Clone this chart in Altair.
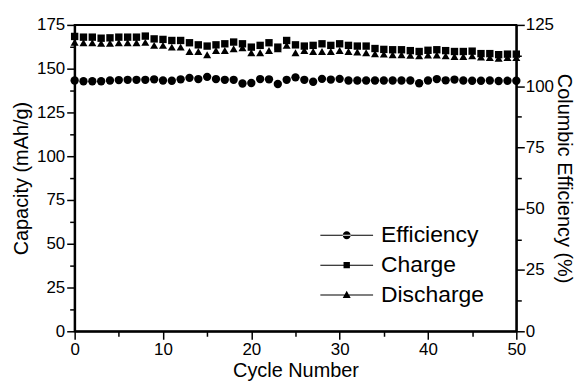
import altair as alt
import pandas as pd

cycles = list(range(51))
charge = [168.4, 168.0, 168.0, 167.4, 167.6, 168.0, 168.0, 168.0, 168.6, 167.0, 166.7, 166.1, 166.1, 164.8, 163.6, 162.9, 163.6,
          164.2, 165.2, 164.2, 162.3, 163.3, 164.8, 162.3, 166.1, 163.6, 162.9, 163.3, 164.2, 163.3, 164.2, 163.3, 162.9, 162.9,
          161.5, 161.0, 160.8, 160.8, 160.3, 159.8, 160.5, 160.8, 160.3, 159.8, 159.8, 160.0, 158.6, 158.6, 158.0, 158.3, 158.3]
discharge = [165.1, 164.8, 164.8, 164.5, 164.5, 164.8, 164.8, 164.8, 165.0, 163.3, 163.3, 162.3, 162.3, 159.8, 159.8, 158.0, 160.4,
             160.4, 161.4, 162.0, 159.1, 159.1, 160.4, 161.4, 163.3, 159.1, 160.4, 159.8, 159.8, 159.8, 160.4, 159.8, 159.5, 159.1,
             158.5, 158.3, 158.0, 158.0, 157.6, 157.3, 157.8, 157.8, 157.3, 157.0, 157.0, 157.3, 156.6, 156.3, 156.0, 156.3, 156.3]
efficiency = [102.3, 102.0, 102.0, 102.0, 102.3, 102.5, 102.6, 102.6, 102.6, 102.8, 102.3, 102.2, 102.8, 103.4, 102.9, 103.8,
              102.9, 102.6, 102.6, 101.1, 101.3, 102.9, 102.8, 100.9, 102.6, 103.6, 102.6, 101.8, 103.0, 102.7, 103.0,
              102.3, 102.3, 102.3, 102.3, 102.3, 102.3, 102.3, 102.3, 101.2, 102.3, 102.9, 102.4, 102.7, 102.3, 102.2,
              102.2, 102.3, 102.1, 102.2, 102.2]
series_names = ["Efficiency", "Charge", "Discharge"]
x_ticks = [0, 5, 10, 15, 20, 25, 30, 35, 40, 45, 50]
left_ticks = [i * 12.5 for i in range(15)]
right_ticks = [i * 12.5 for i in range(11)]

df = pd.DataFrame({"cycle": cycles, "charge": charge, "discharge": discharge, "eff": efficiency})
legend_df = pd.DataFrame({"series": series_names, "cycle": [0, 0, 0], "charge": [0, 0, 0]})

FONT = "Liberation Sans"

# legend symbols: thin horizontal line (filled bar) with a marker in the middle
legend_paths = [
    "M-2.65,-0.05H2.65V0.05H-2.65Z M-0.4,0A0.4,0.4,0,1,0,0.4,0A0.4,0.4,0,1,0,-0.4,0Z",
    "M-2.65,-0.05H2.65V0.05H-2.65Z M-0.32,-0.32H0.32V0.32H-0.32Z",
    "M-2.65,-0.05H2.65V0.05H-2.65Z M0,-0.42L0.4,0.3L-0.4,0.3Z",
]

x_axis = alt.Axis(values=x_ticks, title="Cycle Number",
                  labelExpr="datum.value % 10 === 0 ? format(datum.value, 'd') : ''",
                  tickSize={"condition": {"test": "datum.value % 10 === 0", "value": 8}, "value": 5},
                  labelFlush=False, labelOverlap=False, labelPadding=2, titlePadding=3)
x_enc = alt.X("cycle:Q", scale=alt.Scale(domain=[0, 50], nice=False, zero=False), axis=x_axis)

left_axis = alt.Axis(values=left_ticks, title="Capacity (mAh/g)",
                     labelExpr="datum.value % 25 === 0 ? format(datum.value, 'd') : ''",
                     tickSize={"condition": {"test": "datum.value % 25 === 0", "value": 8}, "value": 5},
                     labelFlush=False, labelOverlap=False, labelPadding=2, titlePadding=5)
left_scale = alt.Scale(domain=[0, 175], nice=False)

right_axis = alt.Axis(values=right_ticks, title="Columbic Efficiency (%)", orient="right",
                      labelExpr="datum.value % 25 === 0 ? format(datum.value, 'd') : ''",
                      tickSize={"condition": {"test": "datum.value % 25 === 0", "value": 8}, "value": 5},
                      labelFlush=False, labelOverlap=False, labelPadding=1, titlePadding=0)

charge_layer = alt.Chart(df).mark_point(shape="square", filled=True, size=55, color="black", opacity=1).encode(
    x=x_enc, y=alt.Y("charge:Q", scale=left_scale, axis=left_axis))
discharge_layer = alt.Chart(df).mark_point(shape="triangle-up", filled=True, size=65, color="black", opacity=1).encode(
    x=x_enc, y=alt.Y("discharge:Q", scale=left_scale, axis=left_axis))
legend_layer = alt.Chart(legend_df).mark_point(filled=True, color="black", opacity=1).encode(
    x=x_enc,
    y=alt.Y("charge:Q", scale=left_scale, axis=left_axis),
    shape=alt.Shape("series:N", scale=alt.Scale(domain=series_names, range=legend_paths),
                    legend=alt.Legend(title=None, orient="none", legendX=262, legendY=200,
                                      symbolSize=400, symbolFillColor="black", symbolStrokeColor="black",
                                      symbolStrokeWidth=0, symbolOpacity=1, labelFontSize=23, labelFont=FONT,
                                      labelColor="black", labelOffset=23, rowPadding=6, padding=0)),
).transform_filter("false")

left = alt.layer(charge_layer, discharge_layer, legend_layer)

eff_layer = alt.Chart(df).mark_point(shape="circle", filled=True, size=70, color="black", opacity=1).encode(
    x=x_enc, y=alt.Y("eff:Q", scale=alt.Scale(domain=[0, 125], nice=False), axis=right_axis))

chart = alt.layer(left, eff_layer).resolve_scale(y="independent").properties(
    width=444, height=308, padding={"left": 3, "top": 7, "right": 3, "bottom": 0}, background="white"
).configure_view(stroke="black", strokeWidth=2).configure_axis(
    grid=False, domainColor="black", domainWidth=2, tickColor="black", tickWidth=1.5,
    labelColor="black", titleColor="black", labelFont=FONT, titleFont=FONT,
    labelFontSize=17, titleFontSize=20, titleFontWeight="normal"
)

chart.save("out.html", embed_options={"renderer": "svg", "actions": False})
